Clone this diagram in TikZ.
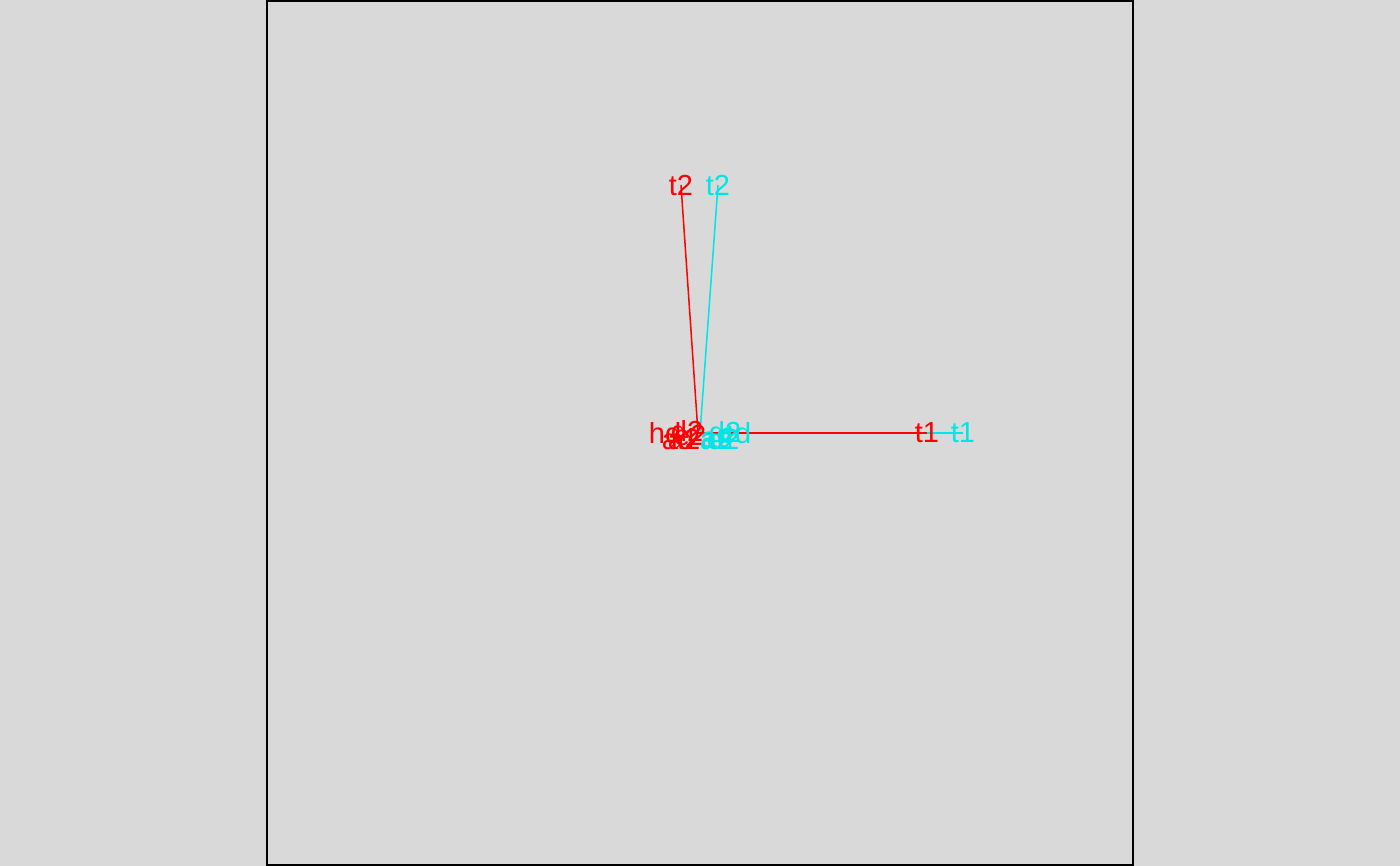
\documentclass[tikz,border=0pt]{standalone}
\usepackage{fontspec}
\setmainfont{Liberation Sans}
\definecolor{plotbg}{HTML}{D9D9D9}
\definecolor{grpA}{HTML}{FF0000}
\definecolor{grpB}{HTML}{00E5E5}
\begin{document}
\begin{tikzpicture}[x=1pt, y=-1pt, inner sep=0pt]
	\tikzset{lbl/.style={font=\fontsize{29}{29}\selectfont}}
	\fill[plotbg] (0,0) rectangle (1400,866);
	\useasboundingbox (0,0) rectangle (1400,866);
	\draw[line width=1.6pt] (267,1) rectangle (1133,865);
		\coordinate (oA) at (698,433);
		\coordinate (oB) at (700,433);
		\coordinate (pA1) at (927,433);
		\coordinate (pA2) at (681,185);
		\coordinate (pB1) at (963,433);
		\coordinate (pB2) at (718,185);

		\draw[grpB, line width=1.5pt] (oB) -- (pB1);
		\draw[grpB, line width=1.5pt] (oB) -- (pB2);
		\draw[grpA, line width=1.5pt] (oA) -- (pA1);
		\draw[grpA, line width=1.5pt] (oA) -- (pA2);

		\node[lbl, grpA] (t1A) at (pA1) {t1};
		\node[lbl, grpA] (t2A) at (pA2) {t2};
		\node[lbl, grpB] (t1B) at (pB1) {t1};
		\node[lbl, grpB] (t2B) at (pB2) {t2};

		% crowded labels round the origin
		\node[lbl, grpA] (hdA) at (665,433) {hd};
		\node[lbl, grpA] (d2A) at (687,431) {d2};
		\node[lbl, grpA] (adA) at (678,439) {ad};
		\node[lbl, grpA] (a2A) at (684,440) {a2};
		\node[lbl, grpA] (e2A) at (690,436) {e2};
		\node[lbl, grpB] (adB) at (717,437) {ad};
		\node[lbl, grpB] (d2B) at (725,432) {d2};
		\node[lbl, grpB] (a2B) at (716,440) {a2};
		\node[lbl, grpB] (cdB) at (736,433) {cd};
		\node[lbl, grpB] (e2B) at (723,440) {e2};
\end{tikzpicture}
\end{document}
